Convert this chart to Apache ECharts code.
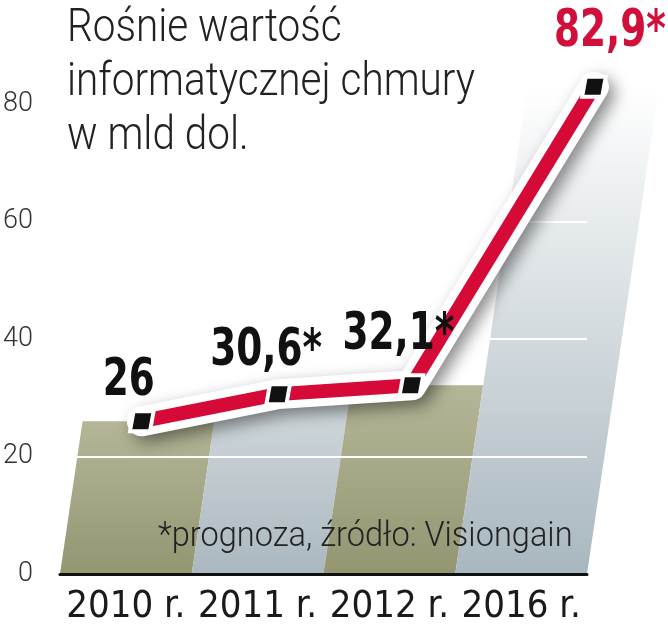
<!DOCTYPE html>
<html>
<head>
<meta charset="utf-8">
<script src="https://cdn.jsdelivr.net/npm/echarts@6/dist/echarts.min.js"></script>
<style>
  html, body { margin: 0; padding: 0; background: #ffffff; }
  #chart { width: 668px; height: 640px; }
</style>
</head>
<body>
<div id="chart"></div>
<script>
// ---- data ----
const categories = ['2010 r.', '2011 r.', '2012 r.', '2016 r.'];
const values = [26, 30.6, 32.1, 82.9];
const forecast = [false, true, true, true];
const yTickLabels = [0, 20, 40, 60, 80];
const titleLines = ['Rośnie wartość', 'informatycznej chmury', 'w mld dol.'];
const footnote = '*prognoza, źródło: Visiongain';

// ---- styling ----
const FONT = "'DejaVu Sans Condensed', 'Liberation Sans', sans-serif";
const LIGHT = "Roboto, 'DejaVu Sans Condensed', sans-serif";
const colSkew = 0.148;
const markSkew = 0.17;
const markShift = -10;
const labelDx = [-13, -12, -13, 16];
const labelDy = [-40, -43, -50, -54];
const colFills = [
  ['#b5b698', '#939671'],
  ['#d2dadd', '#aab8bf'],
  ['#b5b698', '#939671'],
  ['#ffffff', '#a8b7bf']
];

function fmt(v, i) {
  return String(v).replace('.', ',') + (forecast[i] ? '*' : '');
}

const chart = echarts.init(document.getElementById('chart'), null, { renderer: 'canvas' });

function pointAt(api, i, v) {
  const b = api.coord([i, 0]);
  const t = api.coord([i, v]);
  return [t[0] + (b[1] - t[1]) * markSkew + markShift, t[1]];
}

const option = {
  animation: false,
  backgroundColor: '#ffffff',
  graphic: [
    {
      type: 'text',
      left: 67,
      top: 2,
      z: 20,
      scaleX: 0.88,
      style: { text: titleLines.join('\n'), fontFamily: LIGHT, fontWeight: 300, fontSize: 46, lineHeight: 54, fill: '#222' }
    },
    {
      type: 'text',
      left: 158,
      top: 520,
      z: 20,
      scaleX: 0.93,
      style: { text: footnote, fontFamily: LIGHT, fontWeight: 300, fontSize: 35, fill: '#222' }
    }
  ],
  grid: { left: 56, right: 81, top: 45, bottom: 66 },
  xAxis: {
    type: 'category',
    data: categories,
    boundaryGap: true,
    axisLine: { show: true, lineStyle: { color: '#111', width: 3 } },
    axisTick: { show: false },
    axisLabel: { interval: 0, fontFamily: FONT, fontSize: 38, color: '#1a1a1a', margin: 14 },
    z: 5
  },
  yAxis: {
    type: 'value',
    min: 0,
    max: 90,
    interval: 20,
    z: 3,
    axisLine: { show: false },
    axisTick: { show: false },
    axisLabel: {
      fontFamily: LIGHT, fontWeight: 300, fontSize: 27, color: '#333', margin: 27, showMaxLabel: false,
      formatter: function (v) { return yTickLabels.indexOf(v) >= 0 ? String(v) : ''; }
    },
    splitLine: { show: true, lineStyle: { color: '#ffffff', width: 2 } }
  },
  series: [
    {
      type: 'custom',
      z: 1,
      data: values.map((v, i) => [i, v]),
      renderItem: function (params, api) {
        const i = api.value(0), v = api.value(1);
        const b = api.coord([i, 0]);
        const t = api.coord([i, v]);
        const w = api.size([1, 0])[0];
        const sx = (b[1] - t[1]) * colSkew;
        const c = colFills[i];
        return {
          type: 'polygon',
          shape: { points: [[b[0] - w / 2, b[1]], [b[0] + w / 2, b[1]], [b[0] + w / 2 + sx, t[1]], [b[0] - w / 2 + sx, t[1]]] },
          style: {
            fill: new echarts.graphic.LinearGradient(0, 0, 0, 1, [
              { offset: 0, color: c[0] }, { offset: 1, color: c[1] }
            ])
          }
        };
      }
    },
    {
      type: 'custom',
      z: 10,
      clip: false,
      data: values.map((v, i) => [i, v]),
      renderItem: function (params, api) {
        if (params.dataIndex !== 0) return null;
        const pts = values.map((v, i) => pointAt(api, i, api.value(1, i)));
        const children = [];
        children.push({
          type: 'polyline', shape: { points: pts },
          style: { stroke: '#ffffff', lineWidth: 30, lineCap: 'round', lineJoin: 'round', fill: null,
            shadowBlur: 16, shadowColor: 'rgba(0,0,0,0.45)', shadowOffsetX: 6, shadowOffsetY: 6 }
        });
        children.push({
          type: 'polyline', shape: { points: pts },
          style: { stroke: '#d60a36', lineWidth: 14, lineCap: 'butt', lineJoin: 'round', fill: null }
        });
        pts.forEach(function (p, i) {
          const mk = function (s, fill) {
            const k = s / 2 * 0.18;
            return {
              type: 'polygon',
              shape: { points: [[p[0] - s / 2 + k, p[1] - s / 2], [p[0] + s / 2 + k, p[1] - s / 2], [p[0] + s / 2 - k, p[1] + s / 2], [p[0] - s / 2 - k, p[1] + s / 2]] },
              style: { fill: fill }
            };
          };
          children.push(mk(24, '#ffffff'));
          children.push(mk(16, '#111111'));
          children.push({
            type: 'text',
            x: p[0] + labelDx[i],
            y: p[1] + labelDy[i],
            scaleX: 0.8,
            style: {
              text: fmt(api.value(1, i), i),
              fontFamily: FONT, fontSize: 52, fontWeight: 'bold',
              fill: i === 3 ? '#d0103a' : '#111111',
              align: 'center', verticalAlign: 'middle'
            }
          });
        });
        return { type: 'group', children: children };
      }
    }
  ]
};
chart.setOption(option);
</script>
</body>
</html>
